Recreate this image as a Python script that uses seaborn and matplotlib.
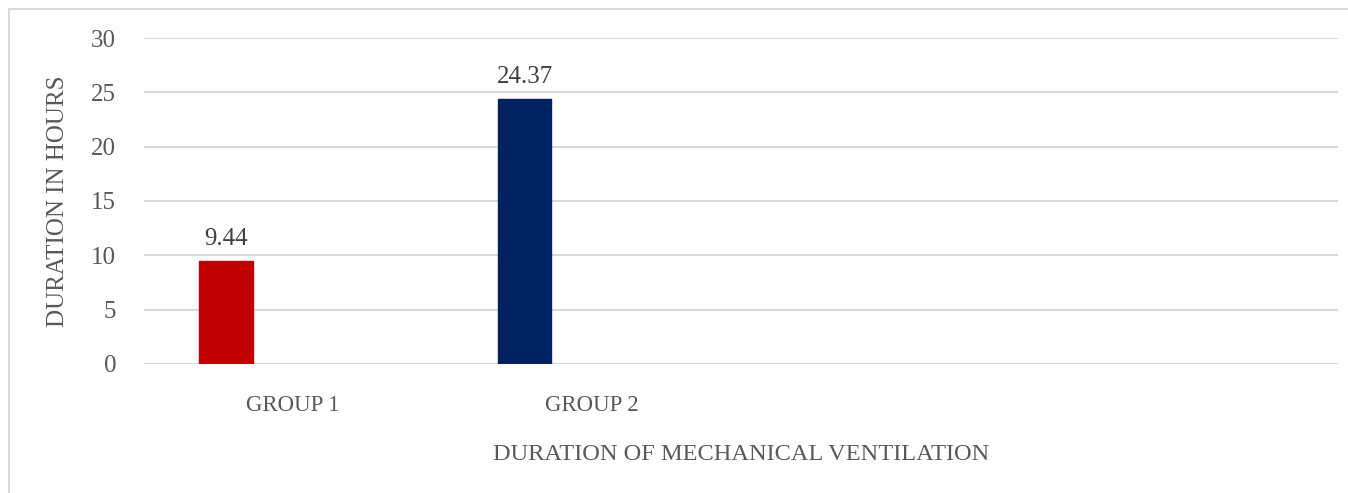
import matplotlib
matplotlib.use("Agg")
import matplotlib.pyplot as plt
import matplotlib.patches as mpatches
import pandas as pd
import seaborn as sns

# chart data
categories = ["GROUP 1", "GROUP 2", " ", "  "]
groups = ["GROUP 1", "GROUP 2"]
hours = [9.44, 24.37]
series = ["Duration", "Duration"]
series_order = ["Duration", "Other"]
bar_colors = ["#C00000", "#002060"]
y_ticks = [0, 5, 10, 15, 20, 25, 30]

df = pd.DataFrame({"group": groups, "hours": hours, "series": series})

sns.set_theme(style="white")
plt.rcParams["font.family"] = ["Liberation Serif", "DejaVu Serif"]
text_color = "#595959"
grid_color = "#D9D9D9"

fig = plt.figure(figsize=(13.48, 4.93), dpi=100)
ax = fig.add_axes([0.1068, 0.2617, 0.8858, 0.6612])

sns.barplot(
    data=df, x="group", y="hours", hue="series",
    order=categories, hue_order=series_order,
    palette=["#C00000", "#002060"], dodge=True,
    width=0.9, gap=0.6, legend=False, ax=ax,
)

# colour each bar separately (varied by point)
for patch, c in zip(ax.patches, bar_colors):
    patch.set_facecolor(c)
    patch.set_edgecolor(c)

for cont in ax.containers:
    ax.bar_label(cont, fmt="%.2f", padding=8, fontsize=18, color="#404040")

ax.set_ylim(0, 30)
ax.set_yticks(y_ticks)
ax.yaxis.grid(True, color=grid_color, linewidth=1.5)
ax.set_axisbelow(True)
for s in ax.spines.values():
    s.set_visible(False)
ax.tick_params(axis="both", length=0, labelcolor=text_color)
ax.tick_params(axis="y", pad=20, labelsize=18)
ax.tick_params(axis="x", pad=22, labelsize=16.5)

ax.set_ylabel("DURATION IN HOURS", fontsize=18, color=text_color)
ax.set_xlabel("DURATION OF MECHANICAL VENTILATION", fontsize=17.6, color=text_color)
ax.yaxis.set_label_coords(-0.063, 0.5)
ax.xaxis.set_label_coords(0.5, -0.245)

# chart frame
fig.patches.append(mpatches.Rectangle(
    (8.5 / 1348, -0.1), 1.2, 1 - 9 / 493 + 0.1, transform=fig.transFigure,
    fill=False, edgecolor=grid_color, linewidth=1.5))

fig.savefig("out.png", dpi=100)
